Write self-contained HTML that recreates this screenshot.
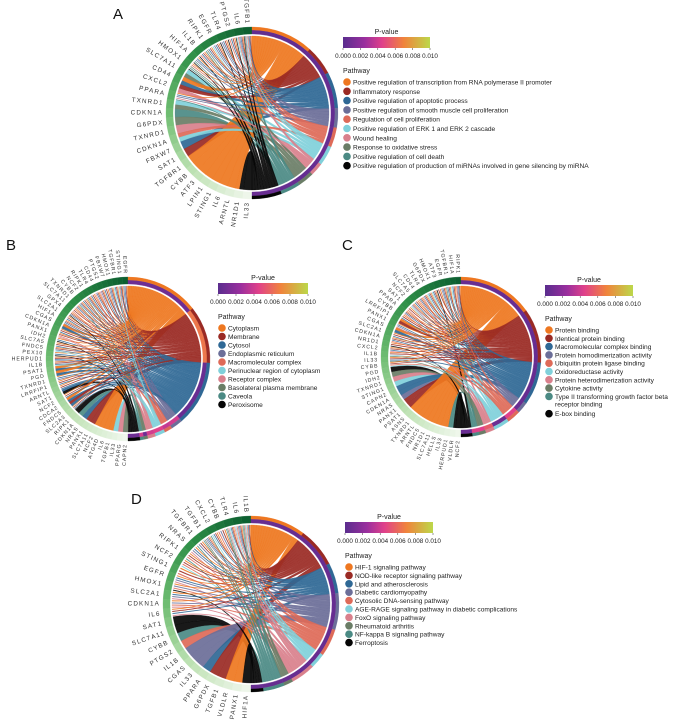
<!DOCTYPE html>
<html><head><meta charset="utf-8">
<style>
html,body{margin:0;padding:0;background:#fff;}
svg{display:block;font-family:"Liberation Sans",sans-serif;}
</style></head>
<body>
<svg id="fig" width="677" height="723" viewBox="0 0 677 723" xmlns="http://www.w3.org/2000/svg">
<defs>
<linearGradient id="pgrad" x1="0" x2="1" y1="0" y2="0">
<stop offset="0" stop-color="#5a2d8e"/><stop offset="0.25" stop-color="#9a2f9e"/><stop offset="0.45" stop-color="#e0418a"/><stop offset="0.7" stop-color="#f0843c"/><stop offset="1" stop-color="#bcd84a"/>
</linearGradient>
</defs>
</svg>
<script>
const colors=["#ee7720","#9a2a24","#2f6895","#6b6e98","#de6a58","#80d0da","#d9808c","#6a7d66","#4b8a84","#050505"];
const pTicks=["0.000","0.002","0.004","0.006","0.008","0.010"];

const genesA=["TGFB1","IL6","PTGS2","TLR4","EGFR","RIPK1","IL1B","HIF1A","HMOX1","SLC7A11","CD44","CXCL2","PPARA","TXNRD1","CDKN1A","G6PDX","TXNRD1","CDKN1A","FBXW7","SAT1","TGFBR1","CYBB","ATF3","LPIN1","STING1","IL6","ARNTL","NR1D1","IL33"];
const linksA=["012345689","0123459","01249","01239","01235","01278","01249","02389","04789","57","02","16","02368","57","8","7","6","45","2","1","0","0","0","0","0","0","0","09","9"];
const pathwaysA=["Positive regulation of transcription from RNA polymerase II promoter","Inflammatory response","Positive regulation of apoptotic process","Positive regulation of smooth muscle cell proliferation","Regulation of cell proliferation","Positive regulation of ERK 1 and ERK 2 cascade","Wound healing","Response to oxidative stress","Positive regulation of cell death","Positive regulation of production of miRNAs involved in gene silencing by miRNA"];
const pvalsA=[0.0003,0.0004,0.0005,0.0004,0.0005,0.0006,0.0005,0.0004,0.0005,0.0006];

const genesB=["EGFR","STING1","TGFBR1","HMOX1","FBXW7","PTGS2","CD44","TLR4","RIPK1","NCF2","CYBB","TXNRD1","SLC7A11","GPX4","SLC2A1","HIF1A","CGAS","CDKN1A","PANX1","IDH2","SLC7A5","FNDC5","PEX10","HERPUD1","IL1B","PSAT1","PGD","TXNRD1","LRRFIP1","ARNTL","SAT1","NCF2","CDCA2","FNDC5","SLC2A3","RIPK1","CDKN1A","NRAS","PANX1","SLC7A11","NCF2","ATG4D","IL6","TGFB1","IL33","PPARG","CAPN2"];
const linksB=["0123","01245","0125","0123","012","0136","0126","012","0127","012","0128","0124","014","0129","012","0123","02","012","0146","029","012","0125","029","0123","0125","02","02","023","012","012","29","012","02","12","0129","9","8","2","1","1","0","0","0","0","5","6","7"];
const pathwaysB=["Cytoplasm","Membrane","Cytosol","Endoplasmic reticulum","Macromolecular complex","Perinuclear region of cytoplasm","Receptor complex","Basolateral plasma membrane","Caveola","Peroxisome"];
const pvalsB=[0.0008,0.007,0.0006,0.0045,0.004,0.005,0.0045,0.0008,0.0045,0.0008];

const genesC=["RIPK1","HIF1A","TGFBR1","EGFR","ATF3","HMOX1","G6PDX","TLR4","CD44","SLC7A5","NCF2","SAT1","PPARA","CYBB","LRRFIP1","PANX1","CGAS","SLC2A1","CDKN1A","NR1D1","CXCL2","IL1B","IL33","CYBB","PGD","IDH2","TXNRD1","STING1","CAPN2","CDKN1A","NRAS","PANX1","PSAT1","ASNS","TXNRD1","ARNTL","FNDC5","NR1D1","SLC7A11","HELLS","IL33","HERPUD1","VLDLR","NCF2"];
const linksC=["01234","0125","0128","0123","019","0125","0125","0126","0124","012","0135","014","0124","012","01","0236","02","012","0124","019","0126","0157","0127","0145","9","7","6","5","2","2","3","1","1","0","0","0","0","0","0","0","0","08","89","9"];
const pathwaysC=["Protein binding","Identical protein binding","Macromolecular complex binding","Protein homodimerization activity","Ubiquitin protein ligase binding","Oxidoreductase activity","Protein heterodimerization activity","Cytokine activity","Type II transforming growth factor beta receptor binding","E-box binding"];
const pvalsC=[0.0005,0.0005,0.0005,0.0006,0.005,0.0007,0.006,0.005,0.005,0.0006];

const genesD=["IL1B","IL6","TLR4","CYBB","CXCL2","TGFB1","TGFBR1","NRAS","RIPK1","NCF2","STING1","EGFR","HMOX1","SLC2A1","CDKN1A","IL6","SAT1","SLC7A11","CYBB","PTGS2","IL1B","CGAS","IL33","PPARA","G6PDX","TGFB1","VLDLR","PANX1","HIF1A"];
const linksD=["01245678","0123456","0125678","0134","01258","012378","0138","0236","0148","0145","014","0236","0349","0236","0346","0126","9","9","8","4","3","3","3","2","1","1","0","0","9"];
const pathwaysD=["HIF-1 signaling pathway","NOD-like receptor signaling pathway","Lipid and atherosclerosis","Diabetic cardiomyopathy","Cytosolic DNA-sensing pathway","AGE-RAGE signaling pathway in diabetic complications","FoxO signaling pathway","Rheumatoid arthritis","NF-kappa B signaling pathway","Ferroptosis"];
const pvalsD=[0.0005,0.0005,0.0005,0.0005,0.0005,0.0005,0.0005,0.0005,0.0005,0.0005];

const NS="http://www.w3.org/2000/svg";
const svg=document.getElementById('fig');
function mk(tag,attrs,parent){const e=document.createElementNS(NS,tag);for(const k in attrs)e.setAttribute(k,attrs[k]);(parent||svg).appendChild(e);return e;}
function lerp(a,b,t){return a+(b-a)*t;}
function hex(c){return [parseInt(c.slice(1,3),16),parseInt(c.slice(3,5),16),parseInt(c.slice(5,7),16)];}
function mix(stops,t){t=Math.max(0,Math.min(1,t));const n=stops.length-1;const i=Math.min(n-1,Math.floor(t*n));const f=t*n-i;const a=hex(stops[i]),b=hex(stops[i+1]);return "rgb("+a.map((v,k)=>Math.round(lerp(v,b[k],f))).join(",")+")";}
const pStops=["#5a2d8e","#9a2f9e","#e0418a","#f0843c","#bcd84a"];
const gStops=["#0a5c2f","#2f8f48","#6fbd72","#bfe2b4","#f1f8ee"];
function pcol(p){return mix(pStops,p/0.01);}

function chord(g,cx,cy,R,genes,links,pvals,fs){
  const pt=(th,r)=>[cx+r*Math.sin(th*Math.PI/180),cy-r*Math.cos(th*Math.PI/180)];
  const n=genes.length;const gw=180/n;
  const all=[];
  genes.forEach((gn,i)=>{const s=(links[i]||"0").split("").map(Number);s.forEach((p,j)=>all.push({g:i,p:p,j:j,k:s.length}));});
  all.forEach(l=>{const sub=gw/l.k;const hi=360-l.g*gw-l.j*sub;const w=l.k>=3?sub*0.3:sub;const mid=hi-sub/2;l.a1=mid-w/2;l.a2=mid+w/2;l.w=w;});
  const uw=180/all.length;
  const sums=new Array(10).fill(0);all.forEach(l=>sums[l.p]+=uw);
  const pstart=[];let acc=0;for(let p=0;p<10;p++){pstart.push(acc);acc+=sums[p];}
  for(let p=0;p<10;p++){let pos=pstart[p];all.filter(l=>l.p===p).sort((a,b)=>b.a2-a.a2).forEach(l=>{l.b1=pos;l.b2=pos+uw;pos=l.b2;});}
  const rr=R-1;
  const ribbons=mk('g',{},g);
  
  
  all.slice().sort((a,b)=>b.w-a.w).forEach(l=>{
    const A1=pt(l.a1,rr),A2=pt(l.a2,rr),B1=pt(l.b1,rr),B2=pt(l.b2,rr);
    const d=`M${A1}A${rr},${rr} 0 0 1 ${A2}Q${cx},${cy} ${B1}A${rr},${rr} 0 0 1 ${B2}Q${cx},${cy} ${A1}Z`;
    const e=mk('path',{d:d,fill:colors[l.p],'fill-opacity':0.92,stroke:colors[l.p],'stroke-width':0.3},ribbons);
    
    
  });
  const arc=(t1,t2,r1,r2,fill,name)=>{const a=pt(t1,r2),b=pt(t2,r2),c=pt(t2,r1),d=pt(t1,r1);const lg=(t2-t1)>180?1:0;
    const e=mk('path',{d:`M${a}A${r2},${r2} 0 ${lg} 1 ${b}L${c}A${r1},${r1} 0 ${lg} 0 ${d}Z`,fill:fill,stroke:fill,'stroke-width':0.3},g);
    
    };
  genes.forEach((gn,i)=>{const t2=360-i*gw,t1=t2-gw;arc(t1,t2,R+1,R+8,mix(gStops,(i+0.5)/n),'gene-arc');
    const m=(t1+t2)/2;const p=pt(m,R+11);const th=m*Math.PI/180;const rot=Math.atan2(Math.cos(th),-Math.sin(th))*180/Math.PI;
    const t=mk('text',{x:p[0],y:p[1],'font-size':fs,'text-anchor':'end','dominant-baseline':'middle','letter-spacing':fs*0.18,fill:'#333',transform:`rotate(${rot},${p[0]},${p[1]})`},g);
    t.textContent=gn;
    
    });
  for(let p=0;p<10;p++){if(!sums[p])continue;const t1=pstart[p],t2=t1+sums[p];
    arc(t1,t2,R+1,R+5,pcol(pvals[p]),'pvalue-arc');arc(t1,t2,R+5,R+8,colors[p],'pathway-arc');}
}

function legend(g,x,y,w,names,fs,step,wrapAt){
  const t=mk('text',{x:x+w/2,y:y-3,'font-size':7,'text-anchor':'middle',fill:'#222'},g);t.textContent='P-value';
  
  const r=mk('rect',{x:x,y:y,width:w,height:11,fill:'url(#pgrad)'},g);
  
  pTicks.forEach((tk,i)=>{const tx=x+w*i/(pTicks.length-1);mk('line',{x1:tx,x2:tx,y1:y+11,y2:y+13,stroke:'#333','stroke-width':0.5},g);
    const e=mk('text',{x:tx,y:y+21,'font-size':6.3,'text-anchor':'middle',fill:'#222'},g);e.textContent=tk;
    });
  const pt=mk('text',{x:x,y:y+36,'font-size':7,fill:'#222'},g);pt.textContent='Pathway';
  
  let yy=y+45;
  names.forEach((nm,i)=>{
    const c=mk('circle',{cx:x+4,cy:yy,r:3.8,fill:colors[i]},g);
    
    const parts=(wrapAt&&nm.length>wrapAt)?[nm.slice(0,nm.lastIndexOf(' ',wrapAt)),nm.slice(nm.lastIndexOf(' ',wrapAt)+1)]:[nm];
    parts.forEach((s,k)=>{const e=mk('text',{x:x+10,y:yy+2.5+k*7.5,'font-size':fs,fill:'#222'},g);e.textContent=s;
      });
    yy+=step+(parts.length-1)*7.5+(parts.length>1?1.5:0);
  });
}
function letter(s,x,y){const e=mk('text',{x:x,y:y,'font-size':15,fill:'#111'});e.textContent=s;
  }

const panels=[
 {n:'a',cx:252,cy:113,R:78,genes:genesA,links:linksA,pv:pvalsA,fs:6.3,lx:343,ly:37,lw:87,names:pathwaysA,lfs:6.6,step:9.3,wrap:0},
 {n:'b',cx:128,cy:359,R:74,genes:genesB,links:linksB,pv:pvalsB,fs:5.2,lx:218,ly:283,lw:90,names:pathwaysB,lfs:6.6,step:8.5,wrap:0},
 {n:'c',cx:461,cy:357,R:72,genes:genesC,links:linksC,pv:pvalsC,fs:5.2,lx:545,ly:285,lw:88,names:pathwaysC,lfs:6.6,step:8.3,wrap:42},
 {n:'d',cx:251,cy:604,R:80,genes:genesD,links:linksD,pv:pvalsD,fs:6.3,lx:345,ly:522,lw:88,names:pathwaysD,lfs:6.6,step:8.4,wrap:0}
];
panels.forEach(p=>{
  const g=mk('g',{});
  
  
  chord(g,p.cx,p.cy,p.R,p.genes,p.links,p.pv,p.fs);
  const lg=mk('g',{},g);
  
  
  legend(lg,p.lx,p.ly,p.lw,p.names,p.lfs,p.step,p.wrap);
});
letter('A',113,19);letter('B',6,250);letter('C',342,250);letter('D',131,504);
</script>
</body></html>
